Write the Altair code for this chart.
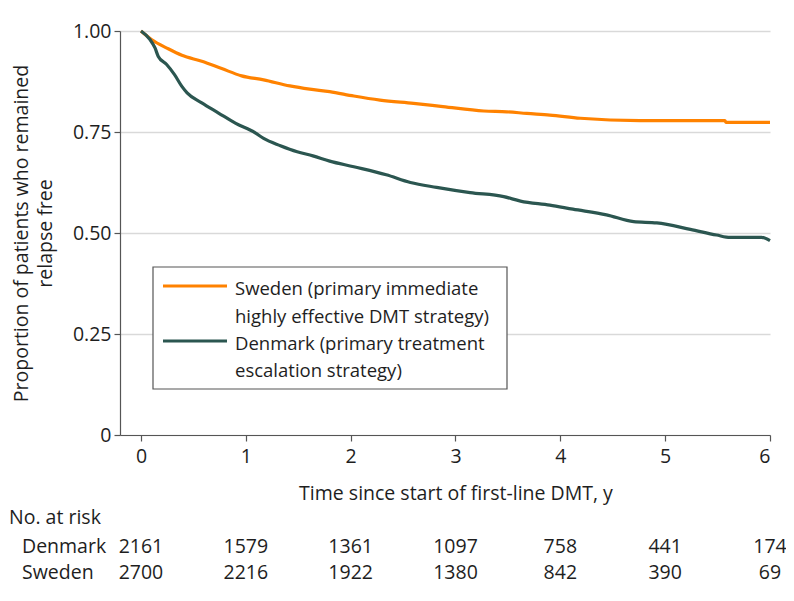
import altair as alt
import pandas as pd

# ---- data ----
sweden_t = [0, 0.10, 0.26, 0.39, 0.58, 0.77, 0.96, 1.17, 1.42, 1.61, 1.80, 2.03, 2.28, 2.60,
            2.88, 3.27, 3.49, 3.68, 3.90, 4.19, 4.76, 5.57, 5.58, 6.0]
sweden_s = [1.0, 0.979, 0.956, 0.940, 0.925, 0.907, 0.889, 0.879, 0.864, 0.856, 0.850, 0.839,
            0.829, 0.821, 0.813, 0.802, 0.800, 0.796, 0.792, 0.784, 0.778, 0.778, 0.774, 0.774]

denmark_t = [0, 0.086, 0.134, 0.165, 0.245, 0.32, 0.39, 0.44, 0.58, 0.74, 0.90, 1.09, 1.17, 1.33,
             1.49, 1.64, 1.80, 2.03, 2.34, 2.57, 2.82, 3.14, 3.46, 3.62, 3.90, 4.12, 4.44, 4.70,
             4.92, 5.24, 5.49, 5.62, 5.92, 6.0]
denmark_s = [1.0, 0.979, 0.958, 0.937, 0.917, 0.892, 0.863, 0.847, 0.822, 0.797, 0.772, 0.748,
             0.734, 0.716, 0.701, 0.691, 0.678, 0.664, 0.644, 0.625, 0.613, 0.600, 0.590, 0.579,
             0.569, 0.559, 0.545, 0.528, 0.525, 0.509, 0.495, 0.489, 0.489, 0.481]

risk_times = [0, 1, 2, 3, 4, 5, 6]
risk_denmark = [2161, 1579, 1361, 1097, 758, 441, 174]
risk_sweden = [2700, 2216, 1922, 1380, 842, 390, 69]

countries = ["Sweden", "Denmark"]
legend_lines = [
    "Sweden (primary immediate",
    "highly effective DMT strategy)",
    "Denmark (primary treatment",
    "escalation strategy)",
]
colors = ["#ff8200", "#2b5650"]

FONT = "Open Sans"
FS = 19.5
FS_TITLE = 19.5
FS_LEG = 18.5
TXT = "#1e1e1e"

curves = pd.concat([
    pd.DataFrame({"t": sweden_t, "s": sweden_s, "country": "Sweden"}),
    pd.DataFrame({"t": denmark_t, "s": denmark_s, "country": "Denmark"}),
])

x_scale = alt.Scale(domain=[-0.2, 6], nice=False, zero=False)
y_scale = alt.Scale(domain=[0, 1], nice=False)

lines = alt.Chart(curves).mark_line(strokeWidth=3.2, interpolate="monotone").encode(
    x=alt.X("t:Q", scale=x_scale,
            axis=alt.Axis(values=risk_times, format="d", title="Time since start of first-line DMT, y",
                          grid=False, tickSize=6, labelPadding=6,
                          titleX=335.5, titleY=58, titleBaseline="middle", titleAnchor="start",
                          titleAlign="center")),
    y=alt.Y("s:Q", scale=y_scale,
            axis=alt.Axis(values=[0, 0.25, 0.5, 0.75, 1.0],
                          labelExpr="datum.value == 0 ? '0' : format(datum.value, '.2f')",
                          title=["Proportion of patients who remained", "relapse free"],
                          grid=True, tickSize=6, labelPadding=3,
                          titleX=-99, titleY=202, titleAngle=-90, titleAlign="center",
                          titleBaseline="middle", titleLineHeight=24, titleAnchor="start")),
    color=alt.Color("country:N", scale=alt.Scale(domain=countries, range=colors), legend=None),
    detail="country:N",
)

# legend box (layout only)
box = alt.Chart(pd.DataFrame({"a": [0]})).mark_rect(
    fill="white", stroke="#555555", strokeWidth=1.2
).encode(x=alt.value(33), x2=alt.value(387), y=alt.value(236), y2=alt.value(358))

leg_sw = alt.Chart(pd.DataFrame({"country": ["Sweden"]})).mark_rule(strokeWidth=3).encode(
    x=alt.value(43), x2=alt.value(107), y=alt.value(255),
    color=alt.Color("country:N", scale=alt.Scale(domain=countries, range=colors), legend=None))
leg_dk = alt.Chart(pd.DataFrame({"country": ["Denmark"]})).mark_rule(strokeWidth=3).encode(
    x=alt.value(43), x2=alt.value(107), y=alt.value(310),
    color=alt.Color("country:N", scale=alt.Scale(domain=countries, range=colors), legend=None))

leg_text_layers = []
for txt, yy in zip(legend_lines, [258, 286, 313, 340]):
    leg_text_layers.append(
        alt.Chart(pd.DataFrame({"label": [txt]})).mark_text(
            align="left", baseline="middle", font=FONT, fontSize=FS_LEG, color=TXT
        ).encode(x=alt.value(115), y=alt.value(yy), text="label:N")
    )

# risk table
risk_df = pd.DataFrame({
    "t": risk_times * 2,
    "n": risk_denmark + risk_sweden,
    "row": ["Denmark"] * 7 + ["Sweden"] * 7,
})
risk_dk = alt.Chart(risk_df[risk_df.row == "Denmark"]).mark_text(
    font=FONT, fontSize=FS, baseline="middle", align="center", color=TXT, clip=False
).encode(x=alt.X("t:Q", scale=x_scale), y=alt.value(516), text="n:Q")
risk_sw = alt.Chart(risk_df[risk_df.row == "Sweden"]).mark_text(
    font=FONT, fontSize=FS, baseline="middle", align="center", color=TXT, clip=False
).encode(x=alt.X("t:Q", scale=x_scale), y=alt.value(542), text="n:Q")

risk_head = alt.Chart(pd.DataFrame({"label": ["No. at risk"]})).mark_text(
    font=FONT, fontSize=FS, baseline="middle", align="left", color=TXT
).encode(x=alt.value(-111), y=alt.value(487), text="label:N")
row_labels = alt.Chart(pd.DataFrame({"label": ["Denmark", "Sweden"], "yy": [516, 542]})).mark_text(
    font=FONT, fontSize=FS, baseline="middle", align="left", color=TXT
).encode(x=alt.value(-98), y=alt.Y("yy:Q", scale=None), text="label:N")

chart = alt.layer(
    lines, box, leg_sw, leg_dk, *leg_text_layers, risk_dk, risk_sw, risk_head, row_labels
).properties(
    width=650, height=404,
    padding={"left": 112, "top": 23, "right": 16, "bottom": 160},
    autosize=alt.AutoSizeParams(type="none"),
).configure_view(stroke=None).configure_axis(
    labelFont=FONT, labelFontSize=FS, labelColor=TXT,
    titleFont=FONT, titleFontSize=FS_TITLE, titleColor=TXT, titleFontWeight="normal",
    domainColor="#555555", domainWidth=1.2, tickColor="#555555", tickWidth=1.2,
    gridColor="#d9d9d9", gridWidth=1.5,
)

chart.save("out.html", embed_options={"renderer": "svg", "actions": False})
